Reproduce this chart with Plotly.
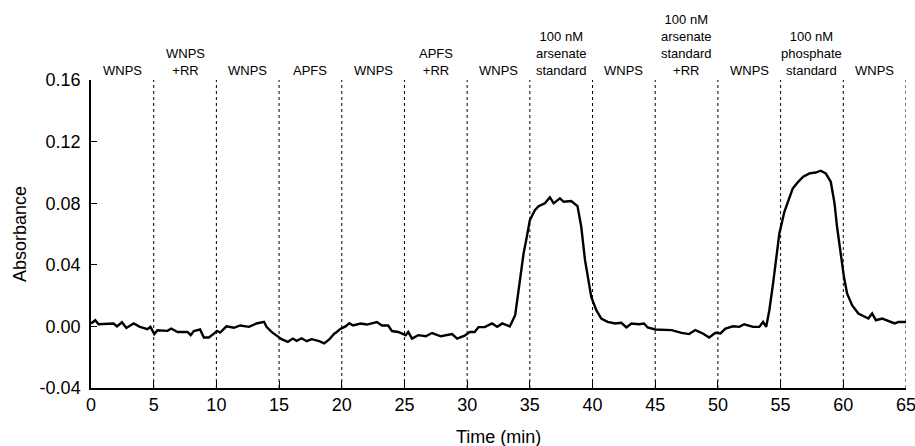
import plotly.graph_objects as go

# Time (min) and absorbance
time_min = [0.0, 0.34, 0.6, 1.8, 2.07, 2.47, 2.82, 3.4, 3.9, 4.5, 4.74, 5.05, 5.3, 6.1, 6.4, 6.9, 7.7, 7.95, 8.2, 8.7,
            9.0, 9.4, 9.8, 10.05, 10.3, 10.8, 11.4, 11.9, 12.6, 13.2, 13.8, 14.0, 14.4, 14.8, 15.2, 15.7, 16.1, 16.4,
            16.8, 17.2, 17.6, 18.2, 18.6, 19.0, 19.4, 19.6, 19.9, 20.3, 20.6, 20.9, 21.5, 22.0, 22.4, 22.8, 23.2,
            23.7, 24.0, 24.5, 25.1, 25.3, 25.6, 26.1, 26.7, 27.2, 27.9, 28.4, 28.8, 29.2, 29.5, 29.8, 30.2, 30.6,
            30.9, 31.4, 31.98, 32.4, 32.8, 33.4, 33.83, 34.2, 34.5, 34.76, 35.0, 35.4, 35.7, 36.2, 36.6, 36.9, 37.4,
            37.7, 38.3, 38.8, 39.1, 39.4, 39.7, 39.9, 40.3, 40.7, 41.2, 41.8, 42.3, 42.7, 43.1, 43.7, 44.1, 44.4,
            45.0, 46.3, 47.1, 47.7, 48.2, 48.8, 49.3, 49.8, 50.2, 50.6, 51.2, 51.7, 52.1, 52.8, 53.3, 53.6, 53.85,
            54.1, 54.4, 54.65, 54.9, 55.3, 55.7, 55.97, 56.4, 56.8, 57.3, 57.8, 58.2, 58.6, 59.0, 59.3, 59.5, 59.8,
            60.05, 60.3, 60.7, 61.2, 61.8, 62.0, 62.3, 62.6, 63.1, 63.6, 64.1, 64.4, 65.0]
absorbance = [0.0019, 0.0040, 0.0014, 0.0019, 0.0000, 0.0027, -0.0010, 0.0019, -0.0003, -0.0018, -0.0003, -0.0050,
              -0.0025, -0.0029, -0.0014, -0.0036, -0.0036, -0.0057, -0.0030, -0.0020, -0.0072, -0.0072, -0.0047,
              -0.0030, -0.0040, 0.0000, -0.0009, 0.0006, -0.0003, 0.0019, 0.0030, -0.0003, -0.0036, -0.0057,
              -0.0083, -0.0100, -0.0079, -0.0094, -0.0077, -0.0096, -0.0083, -0.0096, -0.0110, -0.0085, -0.0047,
              -0.0036, -0.0016, 0.0000, 0.0021, 0.0006, 0.0019, 0.0012, 0.0021, 0.0028, 0.0006, 0.0006, -0.0030,
              -0.0036, -0.0057, -0.0036, -0.0079, -0.0057, -0.0064, -0.0043, -0.0064, -0.0057, -0.0050, -0.0080,
              -0.0068, -0.0060, -0.0036, -0.0036, -0.0005, -0.0005, 0.0019, -0.0003, 0.0019, 0.0000, 0.0073,
              0.0279, 0.0474, 0.0582, 0.0690, 0.0755, 0.0781, 0.0799, 0.0838, 0.0799, 0.0831, 0.0809, 0.0814,
              0.0781, 0.0647, 0.0430, 0.0279, 0.0192, 0.0105, 0.0051, 0.0029, 0.0019, 0.0023, -0.0007, 0.0019,
              0.0014, 0.0019, -0.0007, -0.0020, -0.0024, -0.0042, -0.0050, -0.0024, -0.0046, -0.0072, -0.0042,
              -0.0046, -0.0014, 0.0001, -0.0003, 0.0014, -0.0003, -0.0003, 0.0029, -0.0003, 0.0105, 0.0279,
              0.0430, 0.0604, 0.0744, 0.0842, 0.0896, 0.0939, 0.0972, 0.0994, 0.0999, 0.1011, 0.0994, 0.0939,
              0.0799, 0.0647, 0.0474, 0.0322, 0.0214, 0.0138, 0.0084, 0.0062, 0.0051, 0.0084, 0.0040, 0.0051,
              0.0036, 0.0019, 0.0029, 0.0029]

segment_labels = ["WNPS", "WNPS<br>+RR", "WNPS", "APFS", "WNPS", "APFS<br>+RR", "WNPS",
                  "100 nM<br>arsenate<br>standard", "WNPS", "100 nM<br>arsenate<br>standard<br>+RR", "WNPS",
                  "100 nM<br>phosphate<br>standard", "WNPS"]
segment_centers = [2.5 + 5 * i for i in range(13)]
divider_times = [5, 10, 15, 20, 25, 30, 35, 40, 45, 50, 55, 60, 65]

x_tickvals = [0, 5, 10, 15, 20, 25, 30, 35, 40, 45, 50, 55, 60, 65]
y_tickvals = [-0.04, 0.0, 0.04, 0.08, 0.12, 0.16]
y_ticktext = ["-0.04", "0.00", "0.04", "0.08", "0.12", "0.16"]

FONT = "Liberation Sans, Arial, sans-serif"

fig = go.Figure()
fig.add_trace(go.Scatter(x=time_min, y=absorbance, mode="lines",
                         line=dict(color="black", width=2.4), showlegend=False))

for t in divider_times:
    fig.add_shape(type="line", xref="x", yref="paper", x0=t, x1=t, y0=0, y1=1,
                  line=dict(color="black", width=1, dash="dot"), layer="below")

for c, lab in zip(segment_centers, segment_labels):
    fig.add_annotation(x=c, y=1, xref="x", yref="paper", text=lab, showarrow=False,
                       yanchor="bottom", xanchor="center", yshift=0,
                       font=dict(family=FONT, size=13, color="black"))

fig.add_annotation(x=0.5, y=0, xref="paper", yref="paper", text="Time (min)", showarrow=False,
                   yanchor="middle", yshift=-49, font=dict(family=FONT, size=18, color="black"))
fig.add_annotation(x=0, y=0.5, xref="paper", yref="paper", text="Absorbance", showarrow=False,
                   textangle=-90, xanchor="center", xshift=-71, font=dict(family=FONT, size=18, color="black"))

fig.update_layout(
    width=915, height=446,
    margin=dict(l=91, r=9, t=80, b=58),
    paper_bgcolor="white", plot_bgcolor="white",
    font=dict(family=FONT, size=18, color="black"),
    xaxis=dict(range=[0, 65], tickvals=x_tickvals, ticks="inside", ticklen=7, tickwidth=1,
               tickcolor="black", showline=True, linecolor="black", linewidth=1.5,
               showgrid=False, zeroline=False, tickfont=dict(size=18),
               ticklabeloverflow="allow", automargin=False),
    yaxis=dict(range=[-0.04, 0.16], tickvals=y_tickvals, ticktext=y_ticktext, ticks="inside",
               ticklen=6, tickwidth=1, tickcolor="black", showline=True, linecolor="black",
               linewidth=1.5, showgrid=False, zeroline=False, tickfont=dict(size=18),
               ticklabelstandoff=5, ticklabeloverflow="allow", automargin=False),
)

fig.write_html("out.html")
